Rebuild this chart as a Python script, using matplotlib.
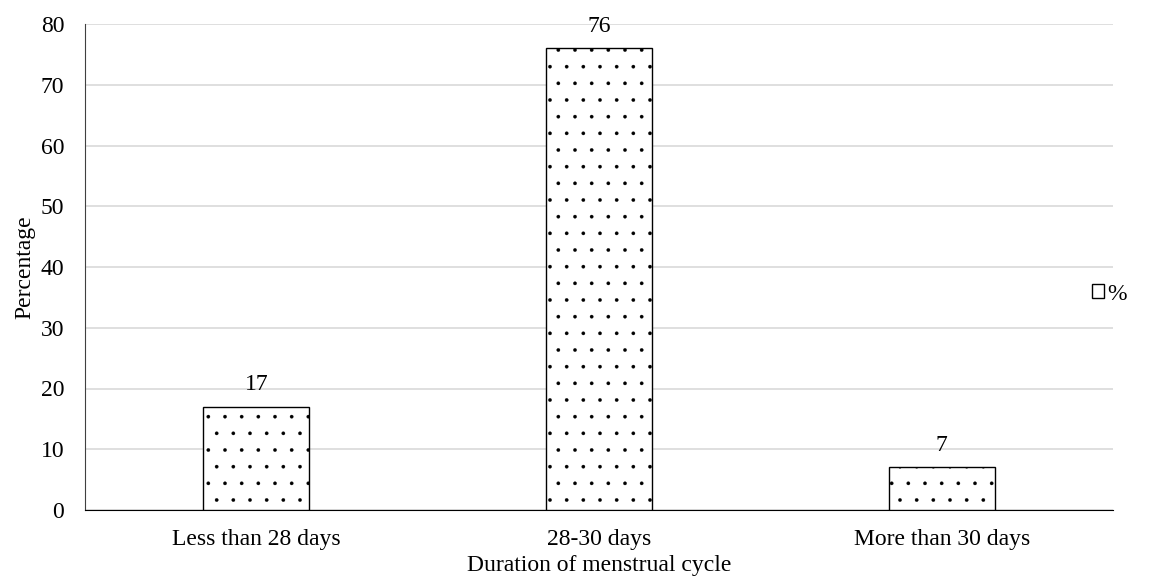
import matplotlib.pyplot as plt
from matplotlib.patches import Patch

# Data:
categories = ["Less than 28 days", "28-30 days", "More than 30 days"]
values = [17, 76, 7]
yticks = [0, 10, 20, 30, 40, 50, 60, 70, 80]

plt.rcParams['font.family'] = ['Liberation Serif', 'DejaVu Serif']
plt.rcParams['hatch.color'] = '#606060'
plt.rcParams['hatch.linewidth'] = 0.2

fig = plt.figure(figsize=(11.62, 5.81), dpi=100)
ax = fig.add_axes([85/1162, 71/581, 1028/1162, 486/581])

x = range(len(categories))
bars = ax.bar(x, values, width=0.31, color='white', edgecolor='black',
              linewidth=1.0, hatch='.', zorder=3)

for xi, v in zip(x, values):
    ax.text(xi, v + 1.9, str(v), ha='center', va='bottom', fontsize=17)

ax.set_xlim(-0.5, 2.5)
ax.set_ylim(0, 80)
ax.set_yticks(yticks)
ax.set_xticks(list(x))
ax.set_xticklabels(categories, fontsize=17)
ax.tick_params(axis='y', labelsize=17, length=0, pad=15)
ax.tick_params(axis='x', length=0, pad=14)
ax.grid(axis='y', color='#d9d9d9', lw=1.2, zorder=0)

for s in ['top', 'right']:
    ax.spines[s].set_visible(False)
ax.spines['left'].set_color('#404040')
ax.spines['bottom'].set_color('black')

ax.set_ylabel('Percentage', fontsize=17, labelpad=4)
ax.set_xlabel('Duration of menstrual cycle', fontsize=17, labelpad=3)

handle = Patch(facecolor='white', edgecolor='black', linewidth=1.0)
fig.legend([handle], ['%'], loc='center left', bbox_to_anchor=(1080/1162, 1 - 294/581),
           frameon=False, fontsize=17, handlelength=0.5, handleheight=0.5,
           handletextpad=0.15, borderpad=0)

fig.savefig("out.png", dpi=100)
